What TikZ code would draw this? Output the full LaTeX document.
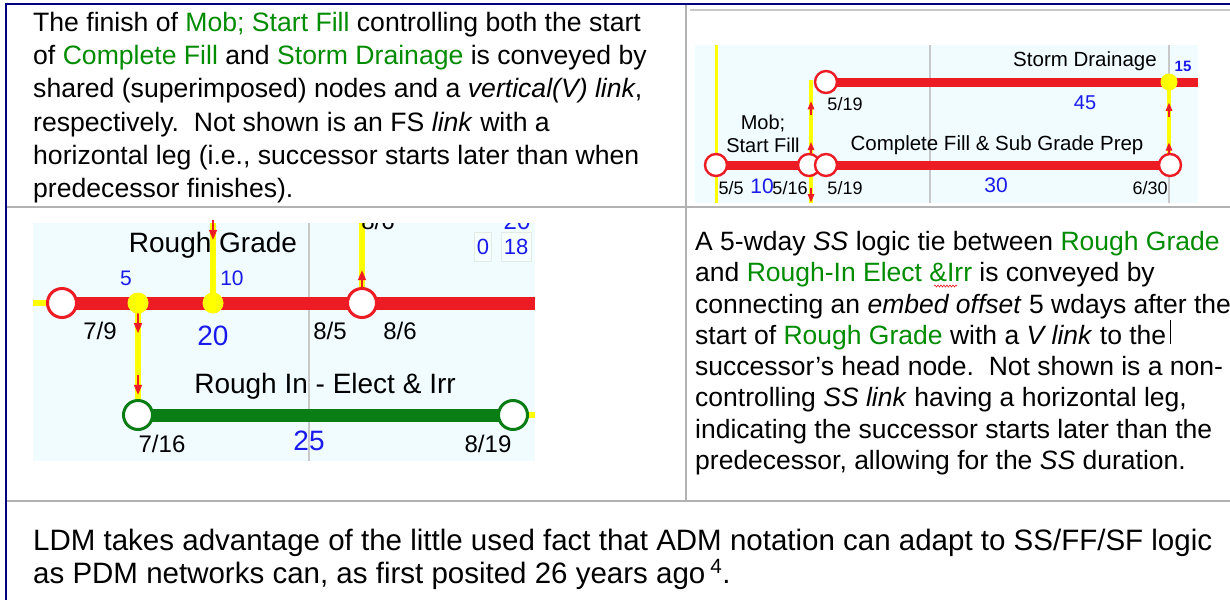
\documentclass[tikz,border=0pt]{standalone}
\usepackage{fontspec}
\setmainfont{Liberation Sans}
\usetikzlibrary{arrows.meta,backgrounds,decorations.markings,decorations.pathmorphing}

\definecolor{framenavy}{RGB}{0,0,128}
\definecolor{rulegray}{RGB}{178,178,178}
\definecolor{gridgray}{RGB}{200,200,200}
\definecolor{panebg}{RGB}{240,252,255}
\definecolor{ldmred}{RGB}{237,28,36}
\definecolor{ldmgreen}{RGB}{10,125,20}
\definecolor{linkyellow}{RGB}{255,255,0}
\definecolor{durblue}{RGB}{25,25,235}
\definecolor{txtgreen}{RGB}{0,140,0}

\newcommand{\act}[1]{\textcolor{txtgreen}{#1}}
\newcommand{\fs}[1]{\fontsize{#1}{#1}\selectfont}

\tikzset{
  para/.style={inner sep=0pt, anchor=base west},
  evtred/.style={circle, draw=ldmred, fill=white, line width=#1, inner sep=0pt},
  evtgreen/.style={circle, draw=ldmgreen, fill=white, line width=3pt, minimum size=29pt, inner sep=0pt},
  ydot/.style={circle, fill=linkyellow, inner sep=0pt},
  lbl/.style={inner sep=0pt},
  redbar/.style={draw=ldmred, line width=#1},
  greenbar/.style={draw=ldmgreen, line width=13pt},
  vlink/.style={draw=linkyellow, line width=#1},
  tipat/.style={postaction={decorate, decoration={markings,
      mark=at position #1 with {\draw[ldmred, line width=1.6pt, -{Triangle[width=8pt,length=10pt]}] (-20pt,0) -- (0,0);}}}},
  tiptop/.style={postaction={decorate, decoration={markings,
      mark=at position #1 with {\draw[ldmred, line width=1.3pt, -{Triangle[width=6.5pt,length=8pt]}] (-14pt,0) -- (0,0);}}}},
  grid/.style={draw=gridgray, line width=1.5pt}
}

\begin{document}
\begin{tikzpicture}[x=1pt,y=-1pt]
  \useasboundingbox (0,0) rectangle (1230,600);

  % frame and cell rules
  \draw[rulegray, line width=1.5pt] (6,207) -- (1230,207);
  \draw[rulegray, line width=1.5pt] (6,501) -- (1230,501);
  \draw[rulegray, line width=1.5pt] (686,5) -- (686,501);
  \draw[gridgray, line width=2pt] (690,10) -- (1230,10);
  \draw[framenavy, line width=2.5pt] (5,4) -- (1230,4);
  \draw[framenavy, line width=2.5pt] (6,4) -- (6,600);

  % ---- top right: Mob; Start Fill / Complete Fill / Storm Drainage
  \node[evtred=2.4pt, minimum size=22pt] (ms1) at (716,165) {};
  \node[evtred=2.4pt, minimum size=22pt] (ms2) at (809,165) {};
  \node[evtred=2.4pt, minimum size=22pt] (cf1) at (826,165) {};
  \node[evtred=2.4pt, minimum size=22pt] (cf2) at (1170,165) {};
  \node[evtred=2.4pt, minimum size=22pt] (sd1) at (826,82) {};
  \node[ydot, minimum size=17pt] (sdot) at (1169,82) {};
  \coordinate (sdout) at (1198,82);
  \coordinate (ytop) at (716,45);
  \coordinate (ybot) at (716,203);
  \coordinate (vtop) at (811,80);
  \coordinate (vbot) at (811,203);

  \begin{pgfonlayer}{background}
    \fill[panebg] (695,45) rectangle (1198,203);
    \draw[grid] (930,45) -- (930,203);
    \draw[grid] (1169,45) -- (1169,203);
    \draw[vlink=3pt] (ytop) -- (ybot);
    \draw[vlink=3.5pt, tiptop=0.27, tiptop=0.75] (ms2.center -| vtop) -- (vtop);
    \draw[vlink=3.5pt, tiptop=0.98] (ms2.center -| vbot) -- (vbot);
    \draw[vlink=3.5pt, tiptop=0.27, tiptop=0.75] (cf2.center -| sdot) -- (sdot.center);
    \draw[redbar=9pt] (ms1.center) -- (ms2.center);
    \draw[redbar=9pt] (cf1.center) -- (cf2.center);
    \draw[redbar=9pt] (sd1.center) -- (sdout);
  \end{pgfonlayer}

  \node[lbl] (sdname) at (1085,61) {\fs{20.5}Storm Drainage};
  \node[lbl, text=durblue] (sdfl) at (1183,66) {\fs{15}\bfseries 15};
  \node[lbl] (sdst) at (845,104) {\fs{18}5/19};
  \node[lbl, text=durblue] (sddur) at (1085,103) {\fs{20}45};
  \node[lbl] (msname1) at (763,124) {\fs{20}Mob;};
  \node[lbl] (msname2) at (763,145) {\fs{20}Start Fill};
  \node[lbl] (cfname) at (997,145) {\fs{20.5}Complete Fill \& Sub Grade Prep};
  \node[lbl] (msst) at (731,188) {\fs{18}5/5};
  \node[lbl, text=durblue] (msdur) at (762,186) {\fs{21}10};
  \node[lbl] (msfn) at (790,188) {\fs{18}5/16};
  \node[lbl] (cfst) at (845,188) {\fs{18}5/19};
  \node[lbl, text=durblue] (cfdur) at (996,185) {\fs{21}30};
  \node[lbl] (cffn) at (1150,188) {\fs{18}6/30};

  % ---- bottom left: Rough Grade / Rough In - Elect & Irr
  \node[evtred=3pt, minimum size=29pt] (rg1) at (62,303) {};
  \node[ydot, minimum size=21pt] (rg5) at (138,303) {};
  \node[ydot, minimum size=21pt] (rg10) at (213,303) {};
  \node[evtred=3pt, minimum size=29pt] (rg2) at (362,303) {};
  \node[evtgreen] (ri1) at (138,415) {};
  \node[evtgreen] (ri2) at (513,415) {};
  \coordinate (rgin) at (33,303);
  \coordinate (rgout) at (535,303);
  \coordinate (riout) at (535,415);
  \coordinate (rgtop1) at (213,223);
  \coordinate (rgtop2) at (362,223);

  \begin{pgfonlayer}{background}
    \fill[panebg] (33,223) rectangle (535,461);
    \draw[grid, line width=1.2pt] (309,223) -- (309,461);
    \draw[vlink=6pt] (rgin) -- (rg1.center);
    \draw[vlink=6pt] (ri2.center) -- (riout);
    \draw[vlink=6pt, tipat=0.27, tipat=0.82] (rg5.center) -- (ri1.center);
    \draw[vlink=6pt, tipat=0.21] (rgtop1) -- (rg10.center);
    \draw[vlink=6pt, tipat=0.41] (rg2.center) -- (rgtop2);
    \draw[redbar=13pt] (rg1.center) -- (rgout);
    \draw[greenbar] (ri1.center) -- (ri2.center);
  \end{pgfonlayer}

  \begin{scope}
    \clip (33,223) rectangle (535,461);
    \node[lbl, anchor=base] (rgcut) at (378,229) {\fs{24}8/6};
    \node[lbl, anchor=base, text=durblue] (flcut) at (517,229) {\fs{24}20};
  \end{scope}
  \node[lbl, draw={rgb,255:red,226;green,236;blue,228}, fill={rgb,255:red,246;green,253;blue,253}, minimum width=17pt, minimum height=29pt, text=durblue] (flzero) at (483,247) {\fs{22}0};
  \node[lbl, draw={rgb,255:red,226;green,236;blue,228}, fill={rgb,255:red,246;green,253;blue,253}, minimum width=30pt, minimum height=29pt, text=durblue] (fleight) at (516,247) {\fs{22}18};

  \node[lbl] (rgname) at (213,245) {\fs{28}Rough Grade};
  \node[lbl, text=durblue] (rgoff) at (126,278) {\fs{21}5};
  \node[lbl, text=durblue] (rgmid) at (232,278) {\fs{21}10};
  \node[lbl] (rgst) at (100,331) {\fs{24}7/9};
  \node[lbl, text=durblue] (rgdur) at (213,336) {\fs{28}20};
  \node[lbl] (rgfn) at (330,331) {\fs{24}8/5};
  \node[lbl] (rgnx) at (400,331) {\fs{24}8/6};
  \node[lbl] (riname) at (325,386) {\fs{28}Rough In - Elect \& Irr};
  \node[lbl] (rist) at (162,444) {\fs{24}7/16};
  \node[lbl, text=durblue] (ridur) at (309,441) {\fs{28}25};
  \node[lbl] (rifn) at (488,444) {\fs{24}8/19};

  % ---- text cells
  \begin{scope}[font=\fontsize{26.6}{30}\selectfont]
    \node[para] (tl1) at (33,31) {The finish of \act{Mob; Start Fill} controlling both the start};
    \node[para] (tl2) at (33,64) {of \act{Complete Fill} and \act{Storm Drainage} is conveyed by};
    \node[para] (tl3) at (33,97) {shared (superimposed) nodes and a \textit{vertical(V) link},};
    \node[para] (tl4) at (33,131) {respectively.\ \ Not shown is an FS \textit{link} with a};
    \node[para] (tl5) at (33,164) {horizontal leg (i.e., successor starts later than when};
    \node[para] (tl6) at (33,197) {predecessor finishes).};
  \end{scope}
  \begin{scope}[font=\fontsize{26.5}{30}\selectfont]
    \node[para] (tr1) at (695,250) {A 5-wday \textit{SS} logic tie between \act{Rough Grade}};
    \node[para] (tr2) at (695,281) {and \act{Rough-In Elect \&Irr} is conveyed by};
    \node[para] (tr3) at (695,313) {connecting an \textit{embed offset} 5 wdays after the};
    \node[para] (tr4) at (695,344) {start of \act{Rough Grade} with a \textit{V link} to the};
    \node[para] (tr5) at (695,375) {successor’s head node.\ \ Not shown is a non-};
    \node[para] (tr6) at (695,406) {controlling \textit{SS link} having a horizontal leg,};
    \node[para] (tr7) at (695,438) {indicating the successor starts later than the};
    \node[para] (tr8) at (695,469) {predecessor, allowing for the \textit{SS} duration.};
  \end{scope}
  \draw[ldmred, line width=0.6pt, decorate, decoration={snake, amplitude=1pt, segment length=3pt}] (934,286) -- (957,286);
  \draw[black, line width=1.2pt] ([xshift=4pt]tr4.base east) -- ++(0,-24);

  \begin{scope}[font=\fontsize{29.5}{33}\selectfont]
    \node[para] (bt1) at (33,550) {LDM takes advantage of the little used fact that ADM notation can adapt to SS/FF/SF logic};
    \node[para] (bt2) at (33,583) {as PDM networks can, as first posited 26 years ago\,\textsuperscript{4}.};
  \end{scope}
\end{tikzpicture}
\end{document}
